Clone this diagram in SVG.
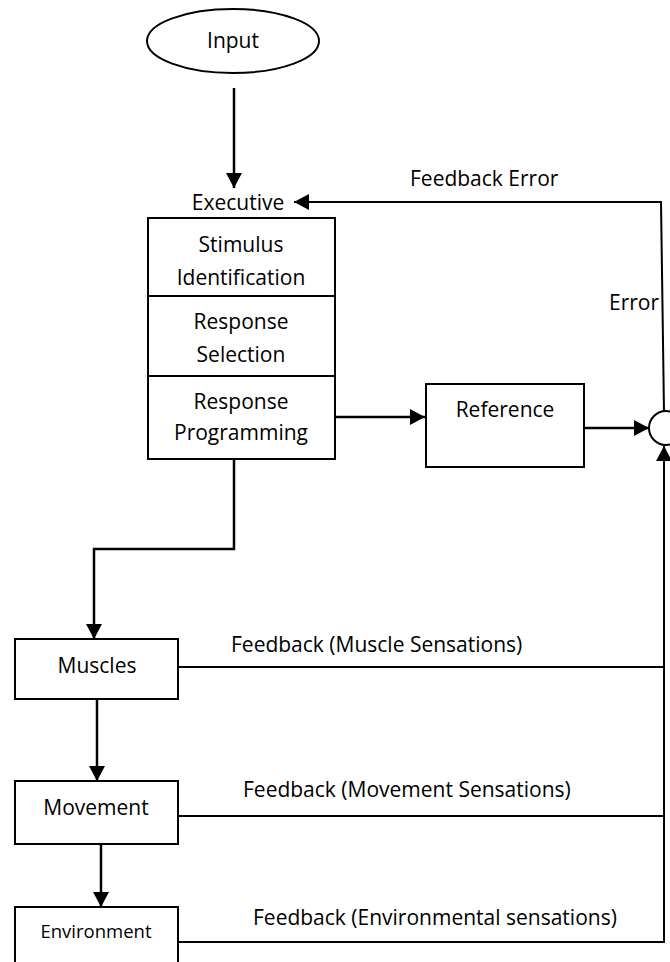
<svg xmlns="http://www.w3.org/2000/svg" width="670" height="962" viewBox="0 0 670 962">
<style>
text{font-family:"Open Sans","Liberation Sans",sans-serif;font-size:21px;fill:#000}
.c{text-anchor:middle}
.box{fill:#fff;stroke:#000;stroke-width:2}
.ln{fill:none;stroke:#000;stroke-width:2.5}
.fb{fill:none;stroke:#000;stroke-width:2}
</style>
<defs>
<marker id="ah" markerUnits="userSpaceOnUse" markerWidth="16" markerHeight="16" refX="15" refY="8" orient="auto">
<path d="M0,0 L15,8 L0,16 z" fill="#000"/>
</marker>
</defs>
<rect width="670" height="962" fill="#fff"/>
<g id="connectors">
<line class="ln" x1="234" y1="88" x2="234" y2="188" marker-end="url(#ah)"/>
<path class="fb" d="M664,412 L661,202 L294,202" marker-end="url(#ah)"/>
<line class="ln" x1="335" y1="417" x2="425" y2="417" marker-end="url(#ah)"/>
<line class="ln" x1="584" y1="428" x2="649" y2="428" marker-end="url(#ah)"/>
<path class="ln" d="M234,459 L234,549 L94,549 L94,639" marker-end="url(#ah)"/>
<line class="ln" x1="97" y1="699" x2="97" y2="781" marker-end="url(#ah)"/>
<line class="ln" x1="101" y1="844" x2="101" y2="907" marker-end="url(#ah)"/>
<line class="fb" x1="178" y1="667" x2="664" y2="667"/>
<line class="fb" x1="178" y1="816" x2="664" y2="816"/>
<line class="fb" x1="178" y1="942" x2="664" y2="942"/>
<line class="fb" x1="664" y1="943" x2="664" y2="446" marker-end="url(#ah)"/>
<text x="410" y="186">Feedback Error</text>
<text x="609" y="310">Error</text>
<text x="231" y="652">Feedback (Muscle Sensations)</text>
<text x="243" y="797">Feedback (Movement Sensations)</text>
<text x="253" y="925">Feedback (Environmental sensations)</text>
</g>
<g id="input">
<ellipse cx="233" cy="41" rx="86" ry="32" class="box"/>
<text class="c" x="233" y="48">Input</text>
</g>
<g id="executive">
<text class="c" x="238" y="210">Executive</text>
</g>
<g id="stimulus-identification">
<rect class="box" x="148" y="218" width="187" height="78"/>
<text class="c" x="241" y="252">Stimulus</text>
<text class="c" x="241" y="285">Identification</text>
</g>
<g id="response-selection">
<rect class="box" x="148" y="296" width="187" height="80"/>
<text class="c" x="241" y="329">Response</text>
<text class="c" x="241" y="362">Selection</text>
</g>
<g id="response-programming">
<rect class="box" x="148" y="376" width="187" height="83"/>
<text class="c" x="241" y="409">Response</text>
<text class="c" x="241" y="440">Programming</text>
</g>
<g id="reference">
<rect class="box" x="426" y="384" width="158" height="83"/>
<text class="c" x="505" y="417">Reference</text>
</g>
<g id="comparator">
<circle cx="666" cy="428" r="17" class="box"/>
</g>
<g id="muscles">
<rect class="box" x="15" y="639" width="163" height="60"/>
<text class="c" x="97" y="673">Muscles</text>
</g>
<g id="movement">
<rect class="box" x="15" y="781" width="163" height="63"/>
<text class="c" x="96" y="815">Movement</text>
</g>
<g id="environment">
<rect class="box" x="15" y="907" width="163" height="70"/>
<text class="c" x="96" y="938" style="font-size:18.5px">Environment</text>
</g>
</svg>
